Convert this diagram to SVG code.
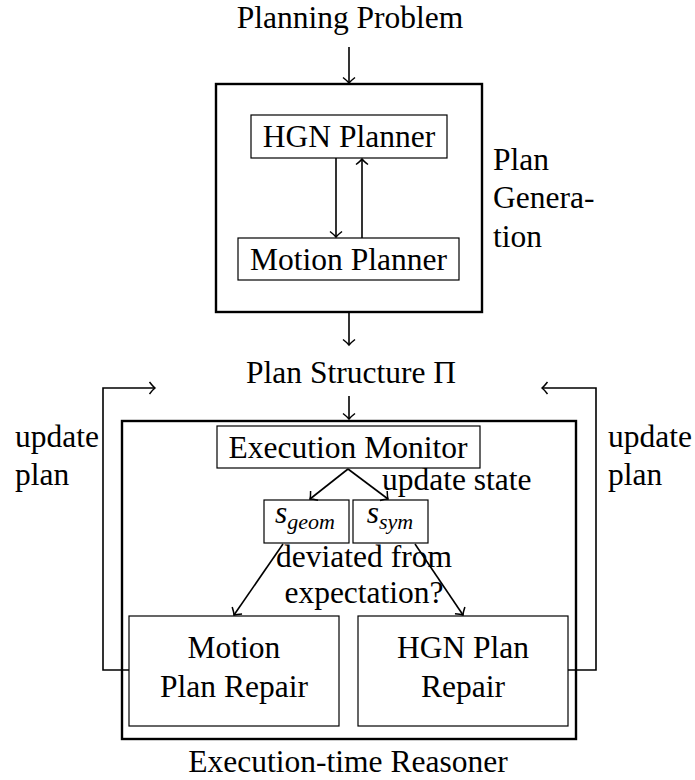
<svg xmlns="http://www.w3.org/2000/svg" width="695" height="780" viewBox="0 0 695 780">
<defs>
<style>
text{font-family:"Liberation Serif","Times New Roman",serif;font-size:31.5px;fill:#000}
.mid{text-anchor:middle}
.outer{fill:none;stroke:#000;stroke-width:2.4}
.inner{fill:#fff;stroke:#000;stroke-width:1.2}
.conn{fill:none;stroke:#000;stroke-width:1.6}
.arr{marker-end:url(#ah)}
.it{font-style:italic}
</style>
<marker id="ah" markerUnits="userSpaceOnUse" markerWidth="16" markerHeight="16" viewBox="-10 -8 16 16" refX="0" refY="0" orient="auto" overflow="visible">
<path d="M -5.5 -6 Q -2 -1.5 0 0 Q -2 1.5 -5.5 6" fill="none" stroke="#000" stroke-width="1.5"/>
</marker>
</defs>
<rect width="695" height="780" fill="#fff"/>

<g id="labels">
<text class="mid" x="350" y="28">Planning Problem</text>
<text class="mid" x="351" y="383">Plan Structure Π</text>
<text class="mid" x="348" y="772">Execution-time Reasoner</text>
<text x="493" y="170">Plan</text>
<text x="493" y="208">Genera-</text>
<text x="493" y="247">tion</text>
<text x="15" y="447">update</text>
<text x="15" y="485">plan</text>
<text x="608" y="447">update</text>
<text x="608" y="485">plan</text>
<text x="382" y="490">update state</text>
<text class="mid" x="364" y="567">deviated from</text>
<text class="mid" x="364" y="603">expectation?</text>
</g>

<g id="plan-generation">
<rect class="outer" x="216" y="84" width="266" height="228"/>
</g>
<g id="hgn-planner">
<rect class="inner" x="251" y="115" width="196" height="43"/>
<text class="mid" x="349" y="147">HGN Planner</text>
</g>
<g id="motion-planner">
<rect class="inner" x="238" y="238" width="221" height="42"/>
<text class="mid" x="348.5" y="270">Motion Planner</text>
</g>

<g id="execution-reasoner">
<rect class="outer" x="122" y="421" width="454" height="318"/>
</g>
<g id="execution-monitor">
<rect class="inner" x="217" y="426" width="263" height="42"/>
<text class="mid" x="348" y="458">Execution Monitor</text>
</g>
<g id="s-geom">
<rect class="inner" x="264" y="500" width="85" height="43"/>
<text class="mid" x="305" y="523"><tspan class="it">s</tspan><tspan class="it" font-size="22" dy="6">geom</tspan></text>
</g>
<g id="s-sym">
<rect class="inner" x="353" y="500" width="75" height="43"/>
<text class="mid" x="390" y="523"><tspan class="it">s</tspan><tspan class="it" font-size="22" dy="6">sym</tspan></text>
</g>
<g id="motion-plan-repair">
<rect class="inner" x="129" y="616" width="210" height="110"/>
<text class="mid" x="234" y="658">Motion</text>
<text class="mid" x="234" y="697">Plan Repair</text>
</g>
<g id="hgn-plan-repair">
<rect class="inner" x="358" y="616" width="210" height="110"/>
<text class="mid" x="463" y="658">HGN Plan</text>
<text class="mid" x="463" y="697">Repair</text>
</g>

<g id="connectors">
<line class="conn arr" x1="349" y1="47" x2="349" y2="83"/>
<line class="conn arr" x1="336" y1="158" x2="336" y2="237"/>
<line class="conn arr" x1="362" y1="238" x2="362" y2="159"/>
<line class="conn arr" x1="349" y1="313" x2="349" y2="345"/>
<line class="conn arr" x1="349" y1="396" x2="349" y2="419"/>
<line class="conn arr" x1="348" y1="469" x2="310" y2="499"/>
<line class="conn arr" x1="348" y1="469" x2="388" y2="499"/>
<line class="conn arr" x1="283" y1="544" x2="234" y2="615"/>
<line class="conn arr" x1="415" y1="544" x2="463" y2="615"/>
<polyline class="conn arr" points="129,670 103,670 103,388 155,388"/>
<polyline class="conn arr" points="568,670 596,670 596,388 542,388"/>
</g>
</svg>
